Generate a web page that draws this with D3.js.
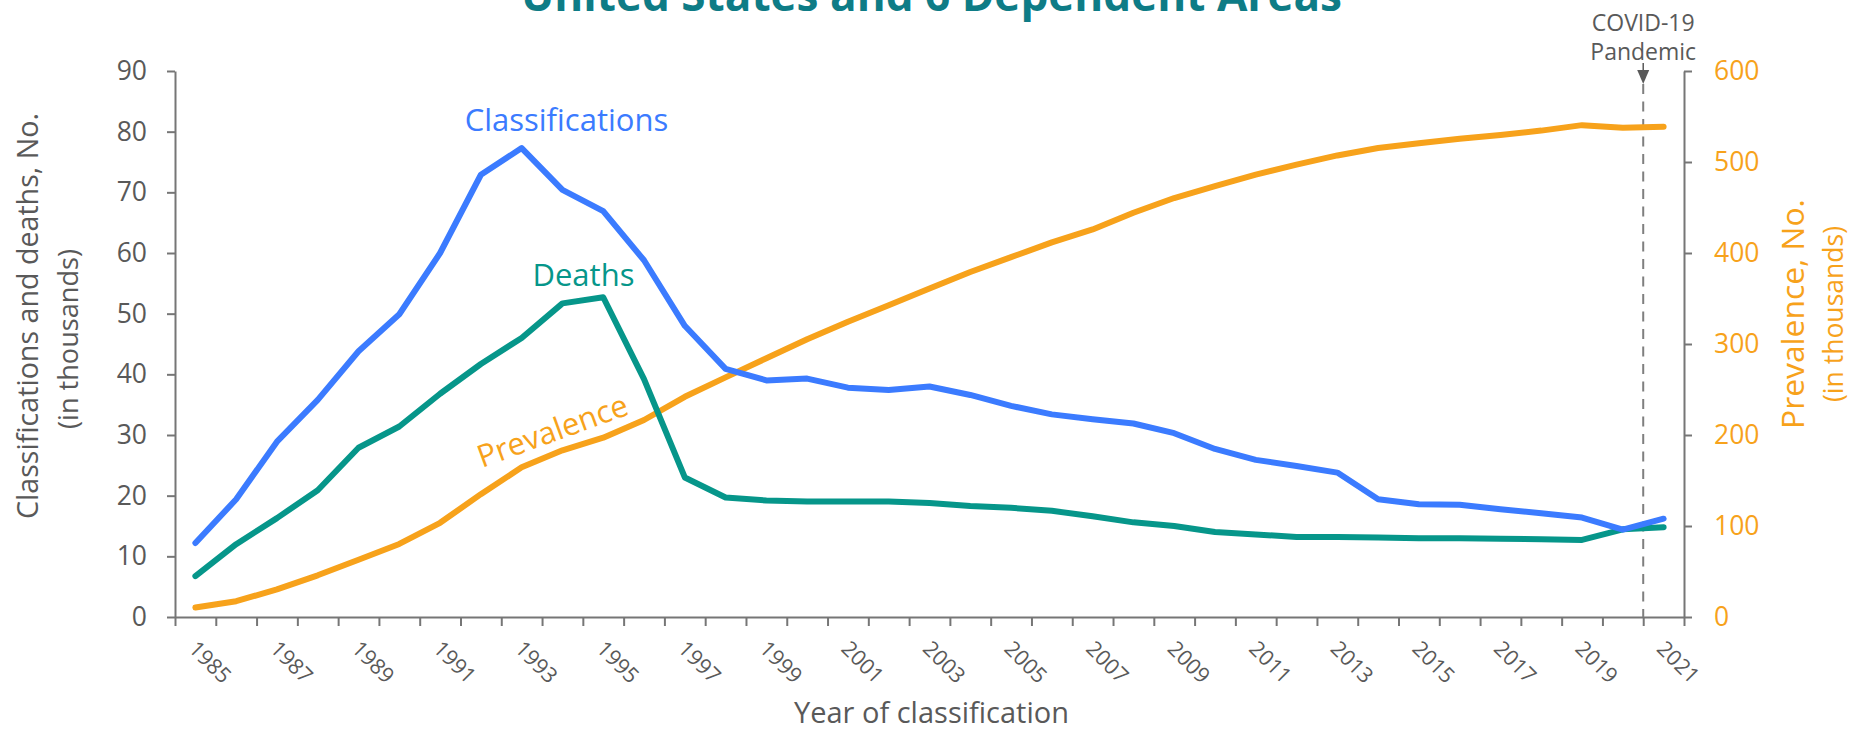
<!DOCTYPE html>
<html>
<head>
<meta charset="utf-8">
<script src="https://cdn.jsdelivr.net/npm/d3@7"></script>
<style>
  html, body { margin: 0; padding: 0; background: #ffffff; }
  svg { display: block; }
  text { font-family: "Open Sans", sans-serif; }
</style>
</head>
<body>
<script>
// ---------------- data ----------------
const years = ["1985","1986","1987","1988","1989","1990","1991","1992","1993","1994",
  "1995","1996","1997","1998","1999","2000","2001","2002","2003","2004","2005","2006",
  "2007","2008","2009","2010","2011","2012","2013","2014","2015","2016","2017","2018",
  "2019","2020","2021"];
const classifications = [12.2, 19.4, 28.9, 35.8, 43.8, 49.9, 60.0, 72.9, 77.3, 70.4,
  66.9, 58.8, 48.0, 40.9, 39.0, 39.3, 37.8, 37.4, 38.0, 36.6, 34.8, 33.4,
  32.6, 31.9, 30.3, 27.7, 25.9, 24.9, 23.8, 19.4, 18.6, 18.5, 17.75, 17.1,
  16.4, 14.4, 16.2];
const deaths = [6.75, 12.0, 16.3, 20.9, 27.9, 31.4, 36.8, 41.7, 46.0, 51.7,
  52.7, 39.2, 23.0, 19.7, 19.2, 19.05, 19.05, 19.05, 18.8, 18.3, 18.0, 17.5,
  16.6, 15.6, 15.0, 14.0, 13.6, 13.2, 13.2, 13.1, 13.0, 13.0, 12.9, 12.8,
  12.7, 14.45, 14.8];
const prevalence = [10.4, 17.4, 30.3, 45.8, 62.9, 80.3, 103.5, 135, 164.5, 183.2,
  197, 216.5, 242, 263.3, 284.4, 305.2, 324.5, 342.5, 360.9, 379.1, 395.4, 411.6,
  425.9, 444.2, 460.4, 473.5, 486.1, 497.1, 507.2, 515.4, 520.6, 525.5, 529.7, 534.5,
  540.5, 537.7, 538.8];
const leftTicks = [0, 10, 20, 30, 40, 50, 60, 70, 80, 90];
const rightTicks = [0, 100, 200, 300, 400, 500, 600];
const xLabelYears = ["1985","1987","1989","1991","1993","1995","1997","1999","2001",
  "2003","2005","2007","2009","2011","2013","2015","2017","2019","2021"];
const pandemicYear = "2021"; // dashed marker at the start of this category

const titleText = "United States and 6 Dependent Areas";

// ---------------- layout ----------------
const W = 1851, H = 731;
const plot = { left: 175, right: 1684, top: 71, bottom: 617 };
const C = {
  blue: "#3b7bff", teal: "#06968a", orange: "#f7a21b",
  axis: "#767676", text: "#595959", title: "#0e7c86", dash: "#7f7f7f"
};

const svg = d3.select("body").append("svg").attr("width", W).attr("height", H);

const x = d3.scaleBand().domain(years).range([plot.left, plot.right]).padding(0);
const xc = d => x(d) + x.bandwidth() / 2;
const xb = d3.scaleLinear().domain([0, years.length]).range([plot.left, plot.right]);
const yL = d3.scaleLinear().domain([0, 90]).range([plot.bottom, plot.top]);
const yR = d3.scaleLinear().domain([0, 600]).range([plot.bottom, plot.top]);

function fit(sel, target) {
  const n = sel.node();
  const fs = parseFloat(sel.attr("font-size"));
  const len = n.getComputedTextLength();
  sel.attr("font-size", (fs * target / len).toFixed(2));
}

// ---------------- axes ----------------
const gL = svg.append("g").attr("transform", `translate(${plot.left},0)`)
  .call(d3.axisLeft(yL).tickValues(leftTicks).tickSize(8).tickPadding(20).tickSizeOuter(0));
gL.selectAll("text").attr("font-size", 26.5).attr("fill", C.text)
  .style("font-family", "Open Sans");

const gR = svg.append("g").attr("transform", `translate(${plot.right},0)`)
  .call(d3.axisRight(yR).tickValues(rightTicks).tickSize(8).tickPadding(22).tickSizeOuter(0));
gR.selectAll("text").attr("font-size", 26.5).attr("fill", C.orange)
  .style("font-family", "Open Sans");

const gX = svg.append("g").attr("transform", `translate(0,${plot.bottom})`)
  .call(d3.axisBottom(xb).tickValues(d3.range(0, years.length + 1)).tickSize(9)
    .tickFormat("").tickSizeOuter(0));

[gL, gR, gX].forEach(g => {
  g.select(".domain").attr("stroke", C.axis).attr("stroke-width", 2);
  g.selectAll(".tick line").attr("stroke", C.axis).attr("stroke-width", 2);
});

// x tick labels (rotated)
svg.append("g").selectAll("text").data(xLabelYears).join("text")
  .attr("transform", d => `translate(${xc(d) - 8},650) rotate(45)`)
  .attr("font-size", 21.5).attr("fill", C.text)
  .text(d => d);

// ---------------- pandemic marker ----------------
const px = x(pandemicYear);
svg.append("line").attr("x1", px).attr("x2", px).attr("y1", 84).attr("y2", plot.bottom)
  .attr("stroke", C.dash).attr("stroke-width", 2).attr("stroke-dasharray", "10,7.5");
svg.append("line").attr("x1", px).attr("x2", px).attr("y1", 63).attr("y2", 72)
  .attr("stroke", C.text).attr("stroke-width", 1.5);
svg.append("path").attr("d", `M${px - 6},70 L${px + 6},70 L${px},84 Z`).attr("fill", C.text);
svg.append("text").attr("x", px).attr("y", 31).attr("text-anchor", "middle")
  .attr("font-size", 23).attr("fill", C.text).text("COVID-19");
svg.append("text").attr("x", px).attr("y", 60).attr("text-anchor", "middle")
  .attr("font-size", 23).attr("fill", C.text).text("Pandemic");

// ---------------- lines ----------------
function drawLine(vals, yScale, color) {
  const line = d3.line().x((d, i) => xc(years[i])).y(d => yScale(d));
  svg.append("path").datum(vals).attr("d", line)
    .attr("fill", "none").attr("stroke", color).attr("stroke-width", 6)
    .attr("stroke-linejoin", "round").attr("stroke-linecap", "round");
}
drawLine(prevalence, yR, C.orange);
drawLine(deaths, yL, C.teal);
drawLine(classifications, yL, C.blue);

// ---------------- series labels ----------------
svg.append("text").attr("x", xc("1994") + 4).attr("y", yL(80.1)).attr("text-anchor", "middle")
  .attr("font-size", 31).attr("fill", C.blue).text("Classifications");
svg.append("text").attr("x", xc("1994") + 21).attr("y", yL(54.6)).attr("text-anchor", "middle")
  .attr("font-size", 31).attr("fill", C.teal).text("Deaths");
svg.append("text")
  .attr("transform", `translate(${xc("1992") + 1},${yR(163.7)}) rotate(-20)`)
  .attr("font-size", 31).attr("fill", C.orange).text("Prevalence");

// ---------------- titles ----------------
const t = svg.append("text").attr("x", (plot.left + plot.right) / 2 + 2).attr("y", 11)
  .attr("text-anchor", "middle").attr("font-size", 46).attr("font-weight", 700)
  .attr("fill", C.title).text(titleText);
fit(t, 821);

svg.append("text").attr("x", (plot.left + plot.right) / 2 + 2).attr("y", 723)
  .attr("text-anchor", "middle").attr("font-size", 29).attr("fill", C.text)
  .text("Year of classification");

const l1 = svg.append("text").attr("transform", "translate(38,316) rotate(-90)")
  .attr("text-anchor", "middle").attr("font-size", 28).attr("fill", C.text)
  .text("Classifications and deaths, No.");
fit(l1, 406);
const l2 = svg.append("text").attr("transform", "translate(78,339) rotate(-90)")
  .attr("text-anchor", "middle").attr("font-size", 27).attr("fill", C.text)
  .text("(in thousands)");
fit(l2, 180);

const r1 = svg.append("text").attr("transform", "translate(1804,314) rotate(-90)")
  .attr("text-anchor", "middle").attr("font-size", 30).attr("fill", C.orange)
  .text("Prevalence, No.");
fit(r1, 230);
const r2 = svg.append("text").attr("transform", "translate(1843,314) rotate(-90)")
  .attr("text-anchor", "middle").attr("font-size", 27).attr("fill", C.orange)
  .text("(in thousands)");
fit(r2, 176);
</script>
</body>
</html>
